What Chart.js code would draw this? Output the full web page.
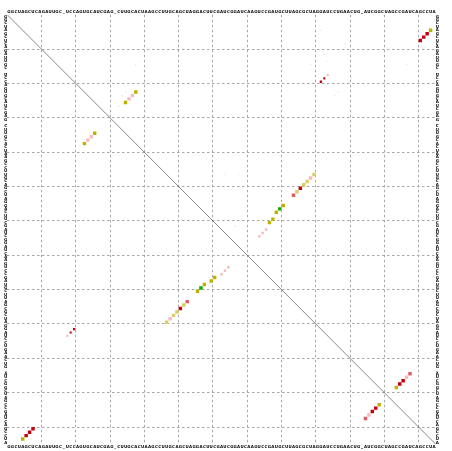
<!DOCTYPE html>
<html>
<head>
<meta charset="utf-8">
<script src="https://cdn.jsdelivr.net/npm/chart.js@4.4.0/dist/chart.umd.min.js"></script>
<style>
  body { margin: 0; background: #fff; }
</style>
</head>
<body>
<canvas id="dotplot" width="452" height="451"></canvas>
<script>
// consensus sequence shown round the box
var seq = ("GGCUAGCUCA" + "GAUUGC_UCC" + "AGUGCAUCGA" + "G_CUUGCACU" +
           "AAGCCUUGCA" + "GCUAGGACUU" + "CGAUCGGAUC" + "AAGUCCGAUG" +
           "CUUAGCGCUA" + "GGAUCCUGAA" + "CUG_AUCGGC" + "UAGCCGAUCA" +
           "GCCUA").split('');
var seqPos = seq.map(function(c, k) { return k + 1; });
var gridPos = [10.5, 20.5, 30.5, 40.5, 50.5, 60.5, 70.5, 80.5, 90.5, 100.5, 110.5, 120.5];

// base pairs [i, j, probability], grouped by colour class
var olivePairs = [[5,124,1],[23,38,1],[26,35,1],[56,81,1],[58,79,1],[60,78,1],[61,77,1],[109,114,1]];
var paleOlivePairs = [[47,90,1],[49,88,1],[50,87,1],[52,85,1]];
var redPairs = [[6,123,1],[7,122,1],[8,121,1],[19,93,0.35],[20,92,0.45],[51,86,1],[107,116,1],[108,115,1]];
var roseRedPairs = [[53,84,1],[105,118,1]];
var pinkPairs = [[18,94,0.35],[24,37,0.9],[25,36,0.9],[48,89,1],[63,76,0.5],[64,75,0.5],[65,74,0.5],[106,117,1]];
var greenPairs = [[57,80,1]];
var faintPairs = [[24,34,0.12],[23,35,0.12],[21,36,0.1],[15,38,0.1],[14,39,0.1],[24,31,0.1],[25,31,0.1],
                  [27,33,0.1],[5,92,0.1],[9,99,0.1],[12,100,0.1],[12,93,0.1],[14,94,0.1],[15,89,0.1],
                  [20,100,0.1],[19,101,0.1],[23,97,0.1],[24,96,0.1],[15,117,0.1],[47,64,0.1],
                  [47,68,0.1],[62,67,0.12],[60,69,0.1],[99,124,0.1],[103,120,0.1]];

function both(list) {
  var out = [];
  list.forEach(function(p) {
    out.push({x: p[1], y: p[0], p: p[2]});
    out.push({x: p[0], y: p[1], p: p[2]});
  });
  return out;
}
function upper(list) {
  return list.map(function(p) { return {x: p[1], y: p[0], p: p[2]}; });
}
function dots(data, color) {
  return {
    type: 'scatter',
    data: data,
    backgroundColor: color,
    borderWidth: 0,
    pointStyle: 'rect',
    pointRadius: function(c) { return 2.45 * Math.sqrt(c.raw ? c.raw.p : 1); },
    xAxisID: 'x',
    yAxisID: 'y'
  };
}

var letterFont = { family: 'DejaVu Sans', size: 4, weight: 'bold' };
function letterAxis(pos, rev) {
  return {
    type: 'linear',
    position: pos,
    min: 0.5,
    max: 125.5,
    reverse: !!rev,
    grid: { display: false, drawTicks: false },
    border: { display: false },
    afterBuildTicks: function(axis) {
      axis.ticks = seqPos.map(function(v) { return { value: v }; });
    },
    ticks: {
      autoSkip: false,
      maxRotation: 0,
      minRotation: 0,
      padding: 0,
      color: '#000',
      font: letterFont,
      callback: function(v) { return seq[Math.round(v) - 1]; }
    }
  };
}
function gridAxis(pos, rev) {
  return {
    type: 'linear',
    position: pos,
    min: 0.5,
    max: 125.5,
    reverse: !!rev,
    grid: { color: '#a8a8a8', lineWidth: 1, drawTicks: false },
    border: { display: false, dash: [2.5, 2.5] },
    afterBuildTicks: function(axis) {
      axis.ticks = gridPos.map(function(v) { return { value: v }; });
    },
    ticks: { display: false }
  };
}

var ctx = document.getElementById('dotplot').getContext('2d');
new Chart(ctx, {
  data: {
    datasets: [
      {
        type: 'line',
        data: [{x: 0.5, y: 0.5}, {x: 125.5, y: 125.5}],
        borderColor: '#555',
        borderWidth: 0.7,
        pointRadius: 0,
        xAxisID: 'x',
        yAxisID: 'y'
      },
      dots(upper(faintPairs), 'rgba(245,200,205,0.7)'),
      dots(both(pinkPairs), 'rgb(246,186,192)'),
      dots(both(paleOlivePairs), 'rgb(218,206,100)'),
      dots(both(olivePairs), 'rgb(190,178,0)'),
      dots(both(roseRedPairs), 'rgb(222,92,102)'),
      dots(both(redPairs), 'rgb(196,0,14)'),
      dots(both(greenPairs), 'rgb(16,170,0)')
    ]
  },
  options: {
    responsive: false,
    animation: false,
    layout: { padding: { top: 10, left: 4, right: 13, bottom: 2 } },
    plugins: { legend: { display: false }, tooltip: { enabled: false } },
    scales: {
      x: gridAxis('bottom'),
      y: gridAxis('left', true),
      seqTop: letterAxis('top'),
      seqBottom: letterAxis('bottom'),
      seqLeft: letterAxis('left', true),
      seqRight: letterAxis('right', true)
    }
  }
});
</script>
</body>
</html>
